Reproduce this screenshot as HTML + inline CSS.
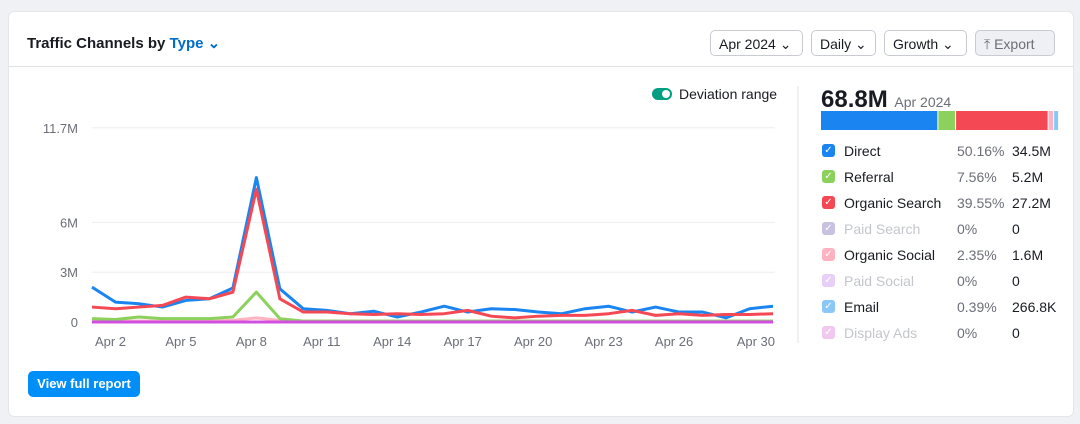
<!DOCTYPE html>
<html><head><meta charset="utf-8"><style>
body{margin:0;width:1080px;height:424px;background:#f0f1f5;font-family:"Liberation Sans",sans-serif;position:relative;overflow:hidden}
.card{position:absolute;left:8px;top:11px;width:1064px;height:404px;background:#fff;border-radius:6px;border:1px solid #e4e6ea}
.hdr{position:absolute;left:0;top:0;width:1064px;height:54px;border-bottom:1px solid #dfe1e5}
.title{position:absolute;left:18px;top:22px;font-size:15px;font-weight:bold;color:#191b23}
.title span{color:#006dca}
.btn{position:absolute;top:18px;height:26px;border:1px solid #c8cbd2;border-radius:5px;font-size:14px;line-height:26px;padding:0 8px;color:#191b23;box-sizing:border-box;background:#fff}
.exp{background:#eef0f3;color:#6c6e79}
.leg{position:absolute;font-size:14px;color:#191b23}
.cb{position:absolute;width:13px;height:13px;border-radius:3px;color:#fff;font-size:10px;line-height:13px;text-align:center}
.vf{position:absolute;left:19px;top:359px;width:112px;height:26px;background:#008ff8;border-radius:5px;color:#fff;font-size:13px;font-weight:bold;line-height:26px;text-align:center}
</style></head><body>
<div class="card">
<div class="hdr">
<div class="title">Traffic Channels by <span>Type ⌄</span></div>
<div class="btn" style="left:701px;width:93px">Apr 2024 ⌄</div>
<div class="btn" style="left:802px;width:65px">Daily ⌄</div>
<div class="btn" style="left:875px;width:83px">Growth ⌄</div>
<div class="btn exp" style="left:966px;width:80px">⤒ Export</div>
</div>
<div class="vf">View full report</div>
</div>
<svg id="ch" width="1080" height="424" style="position:absolute;left:0;top:0">
<rect x="652" y="88" width="20" height="12" rx="6" fill="#009f81"/>
<circle cx="666" cy="94" r="4" fill="#fff"/>
<text x="679" y="99" font-size="14" fill="#191b23">Deviation range</text>
<line x1="798" y1="86" x2="798" y2="343" stroke="#dfe1e5"/>
</svg>
<div class="leg" style="left:821px;top:86px;font-size:24px;font-weight:bold">68.8M <span style="font-size:14px;font-weight:normal;color:#6c6e79">Apr 2024</span></div>
<div id="legend"></div>
<script>
const days=[];for(let i=1;i<=30;i++)days.push(i);
const direct=[2.1,1.2,1.1,0.9,1.3,1.4,2.05,8.7,2.0,0.8,0.7,0.5,0.65,0.3,0.6,0.95,0.6,0.8,0.75,0.6,0.5,0.8,0.95,0.6,0.9,0.6,0.6,0.25,0.8,0.95];
const organic=[0.9,0.8,0.9,1.0,1.5,1.4,1.8,8.0,1.4,0.6,0.6,0.5,0.45,0.5,0.45,0.5,0.7,0.35,0.25,0.35,0.4,0.4,0.5,0.7,0.4,0.5,0.4,0.45,0.45,0.5];
const referral=[0.2,0.15,0.3,0.2,0.2,0.2,0.3,1.8,0.2,0.05,0.05,0.05,0.05,0.05,0.05,0.05,0.05,0.05,0.05,0.05,0.05,0.05,0.05,0.05,0.05,0.05,0.05,0.05,0.05,0.05];
const social=[0.05,0.05,0.05,0.05,0.05,0.05,0.1,0.25,0.1,0.05,0.05,0.05,0.05,0.05,0.05,0.05,0.05,0.05,0.05,0.05,0.05,0.05,0.05,0.05,0.05,0.05,0.05,0.05,0.05,0.05];
const zero=days.map(()=>0);
const yTicks=[0,3,6,11.7];const yLabels=["0","3M","6M","11.7M"];
const xTickDays=[2,5,8,11,14,17,20,23,26,30];
const X=d=>92+(d-1)*(681/29), Y=v=>322-v*16.6;
const svg=document.getElementById('ch'),NS='http://www.w3.org/2000/svg';
function mk(t,a){const e=document.createElementNS(NS,t);for(const k in a)e.setAttribute(k,a[k]);svg.appendChild(e);return e;}
yTicks.forEach((t,i)=>{const l=mk('line',{x1:92,x2:775,y1:Y(t),y2:Y(t),stroke:'#eceef1'});


const tx=mk('text',{x:78,y:Y(t)+5,'text-anchor':'end','font-size':13,fill:'#6c6e79'});tx.textContent=yLabels[i];

});
xTickDays.forEach((d,i)=>{const last=i===xTickDays.length-1;const tx=mk('text',{x:last?775:X(d)-5,y:346,'text-anchor':last?'end':'middle','font-size':13,fill:'#6c6e79'});tx.textContent='Apr '+d;

});
[[social,'#ffb3c0','line-organic-social'],[referral,'#8bd15b','line-referral'],[zero,'#d04fe0','line-paid-social'],[direct,'#1a85f0','line-direct'],[organic,'#f44954','line-organic-search']].forEach(([s,c,n])=>{
const p=mk('polyline',{points:s.map((v,i)=>X(days[i])+','+Y(v)).join(' '),fill:'none',stroke:c,'stroke-width':3,'stroke-linejoin':'round'});

});
const names=["Direct","Referral","Organic Search","Paid Search","Organic Social","Paid Social","Email","Display Ads"];
const pcts=[50.16,7.56,39.55,0,2.35,0,0.39,0];
const vals=["34.5M","5.2M","27.2M","0","1.6M","0","266.8K","0"];
const cols=["#1a85f0","#8bd15b","#f44954","#c9c1e0","#ffb3c0","#e7cff7","#8ac8f7","#f3c8f0"];
const dim=[0,0,0,1,0,1,0,1];
let bx=821;const bw=234,lg=document.getElementById('legend');
pcts.forEach((p,i)=>{if(!p)return;const w=Math.max(bw*p/100,5);const r=mk('rect',{x:bx,y:111,width:w-1,height:19,fill:cols[i]});

bx+=w;});
names.forEach((n,i)=>{const y=143+i*26;const g=dim[i]?'#c4c6cc':'#191b23';
lg.insertAdjacentHTML('beforeend',`<div class="cb" style="left:822px;top:${y+1}px;background:${cols[i]}">✓</div><div class="leg" style="left:844px;top:${y}px;color:${g}">${n}</div><div class="leg" style="left:957px;top:${y}px;color:#6c6e79">${pcts[i]}%</div><div class="leg" style="left:1012px;top:${y}px">${vals[i]}</div>`);});
</script>
</body></html>
